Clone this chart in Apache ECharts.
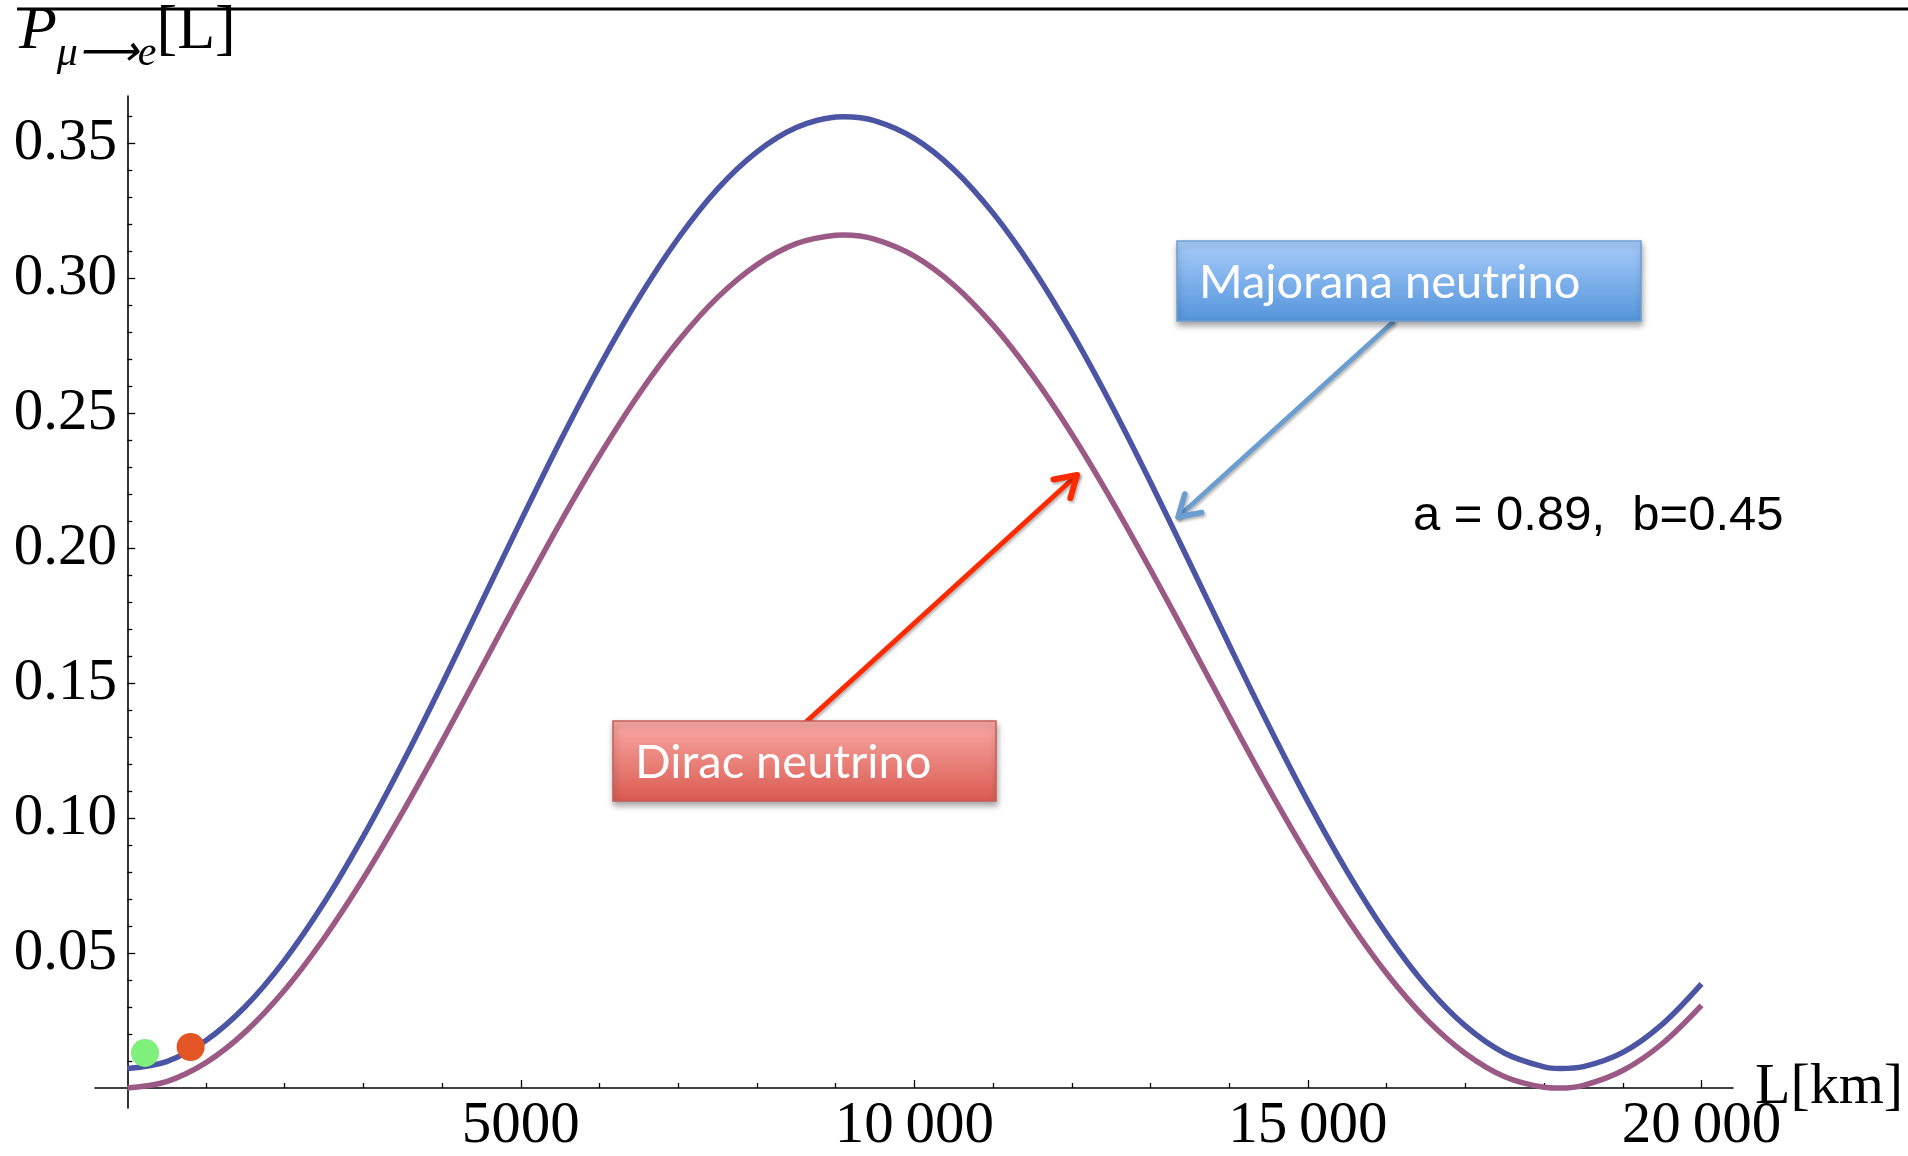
<!DOCTYPE html>
<html>
<head>
<meta charset="utf-8">
<script src="https://cdn.jsdelivr.net/npm/echarts@6/dist/echarts.min.js"></script>
<style>
html,body{margin:0;padding:0;background:#fff;}
#chart{width:1908px;height:1156px;}
</style>
</head>
<body>
<div id="chart"></div>
<script>
// ---- data ----
const lengthKm = [0,500,1000,1500,2000,2500,3000,3500,4000,4500,5000,5500,6000,6500,7000,7500,8000,8500,9000,9100,9500,10000,
  10500,11000,11500,12000,12500,13000,13500,14000,14500,15000,15500,16000,16500,17000,17500,18000,18200,18500,19000,19500,20000];
const majorana = [0.0072,0.0098,0.0176,0.0302,0.0474,0.0686,0.0933,0.1206,0.1497,0.1799,0.2101,0.2396,0.2674,0.2927,0.3148,0.3331,0.3468,0.3558,0.3597,0.3598,0.3583,0.3518,
  0.3403,0.3241,0.3038,0.2799,0.2532,0.2244,0.1944,0.1641,0.1344,0.1061,0.0801,0.0571,0.0379,0.0230,0.0129,0.0078,0.0072,0.0079,0.0132,0.0236,0.0386];
const dirac = [0.0000,0.0024,0.0094,0.0208,0.0363,0.0555,0.0777,0.1023,0.1285,0.1557,0.1829,0.2094,0.2343,0.2570,0.2767,0.2929,0.3050,0.3128,0.3159,0.3160,0.3144,0.3082,
  0.2975,0.2826,0.2640,0.2423,0.2180,0.1920,0.1650,0.1377,0.1110,0.0858,0.0627,0.0424,0.0256,0.0128,0.0042,0.0003,0.0000,0.0010,0.0065,0.0164,0.0306];
const dotL = [225, 805];
const dotP = [0.0130, 0.0152];
const dotColors = ['#7ef07b', '#e45526'];

const xMajorTicks = [5000,10000,15000,20000];
const xMinorTicks = [1000,2000,3000,4000,6000,7000,8000,9000,11000,12000,13000,14000,16000,17000,18000,19000];
const yMajorTicks = [0.05,0.10,0.15,0.20,0.25,0.30,0.35];
const yMinorTicks = [0.01,0.02,0.03,0.04,0.06,0.07,0.08,0.09,0.11,0.12,0.13,0.14,0.16,0.17,0.18,0.19,
  0.21,0.22,0.23,0.24,0.26,0.27,0.28,0.29,0.31,0.32,0.33,0.34,0.36];

const xName = 'L[km]';
const seriesNames = ['Majorana neutrino', 'Dirac neutrino'];
const paramText = 'a = 0.89,  b=0.45';

// ---- chart ----
const serif = '"Liberation Serif", "Times New Roman", serif';
const chart = echarts.init(document.getElementById('chart'), null, {renderer:'canvas'});

function fmtX(v){
  return v >= 10000 ? String(v).replace(/\B(?=(\d{3})+(?!\d))/g, '\u2009') : String(v);
}

function arrow(x1,y1,x2,y2,color,w,head){
  const a = Math.atan2(y2-y1, x2-x1);
  const sp = 0.55;
  const p1 = [x2 - head*Math.cos(a-sp), y2 - head*Math.sin(a-sp)];
  const p2 = [x2 - head*Math.cos(a+sp), y2 - head*Math.sin(a+sp)];
  const sh = {shadowBlur:3, shadowOffsetX:1.5, shadowOffsetY:2, shadowColor:'rgba(0,0,0,0.3)'};
  return [
    {type:'line', z:50, shape:{x1:x1,y1:y1,x2:x2,y2:y2}, style:Object.assign({stroke:color, lineWidth:w, lineCap:'round'}, sh)},
    {type:'polyline', z:50, shape:{points:[p1,[x2,y2],p2]}, style:Object.assign({stroke:color, lineWidth:w+1, lineCap:'round', lineJoin:'round', fill:null}, sh)}
  ];
}

function box(x,y,w,h,top,bottom,border,label){
  return [
    {type:'rect', z:60, shape:{x:x,y:y,width:w,height:h},
     style:{fill:{type:'linear',x:0,y:0,x2:0,y2:1,colorStops:[{offset:0,color:top},{offset:1,color:bottom}]},
            stroke:border, lineWidth:1.5, shadowBlur:6, shadowOffsetX:1, shadowOffsetY:4, shadowColor:'rgba(0,0,0,0.35)'}},
    {type:'text', z:61, x:x+22, y:y+h/2+2,
     style:{text:label, fill:'#ffffff', fontFamily:'Lato, "Open Sans", sans-serif', fontSize:47, verticalAlign:'middle', align:'left'}}
  ];
}

const graphics = [].concat(
  [{type:'line', z:40, shape:{x1:17,y1:9,x2:1908,y2:9}, style:{stroke:'#000', lineWidth:3}}],
  arrow(1393,322,1178,517,'#6a9dd0',4.5,24),
  arrow(807,721,1077,475,'#ff2a00',5,24),
  box(1177,241,464,80,'#a8cdfb','#5494da','#6d9fd4',seriesNames[0]),
  box(613,721,383,80,'#f9aaa6','#da5a50','#c65c55',seriesNames[1]),
  [{type:'text', z:40, x:1413, y:516, style:{text:paramText, fill:'#000', fontFamily:'"Liberation Sans", Arial, sans-serif', fontSize:49, verticalAlign:'middle', align:'left'}}]
);

const axisColor = '#000';
const option = {
  animation:false,
  backgroundColor:'#ffffff',
  grid:{left:95, top:96, width:1638, height:1012, containLabel:false, outerBoundsMode:'none'},
  xAxis:[
    {type:'value', min:-410, max:20400, position:'bottom',
     axisLine:{show:true, onZero:true, lineStyle:{color:axisColor, width:1.6}},
     axisTick:{show:true, customValues:xMajorTicks, inside:true, length:8, lineStyle:{color:axisColor, width:1.3}},
     axisLabel:{show:true, customValues:xMajorTicks, formatter:fmtX, fontFamily:serif, fontSize:59, color:'#000', margin:-11},
     splitLine:{show:false},
     name:xName, nameLocation:'end', nameGap:22, nameMoveOverlap:false,
     nameTextStyle:{fontFamily:serif, fontSize:58, color:'#000', verticalAlign:'middle', align:'left'}},
    {type:'value', min:-410, max:20400, position:'bottom',
     axisLine:{show:true, onZero:true, lineStyle:{color:axisColor, width:1.6, opacity:0}},
     axisTick:{show:true, customValues:xMinorTicks, inside:true, length:5, lineStyle:{color:axisColor, width:1.3}},
     axisLabel:{show:false}, splitLine:{show:false}}
  ],
  yAxis:[
    {type:'value', min:-0.0074, max:0.3675, position:'left',
     axisLine:{show:true, onZero:true, lineStyle:{color:axisColor, width:1.6}},
     axisTick:{show:true, customValues:yMajorTicks, inside:true, length:8, lineStyle:{color:axisColor, width:1.3}},
     axisLabel:{show:true, customValues:yMajorTicks, formatter:function(v){return v.toFixed(2);}, fontFamily:serif, fontSize:59, color:'#000', margin:-22},
     splitLine:{show:false},
     name:'{p|P}{s|μ⟶e}{l|[L]}', nameLocation:'end', nameGap:29, nameMoveOverlap:false,
     nameTextStyle:{align:'center', verticalAlign:'bottom',
       rich:{
         p:{fontFamily:serif, fontStyle:'italic', fontSize:62, lineHeight:66, verticalAlign:'top', color:'#000'},
         s:{fontFamily:serif, fontStyle:'italic', fontSize:42, lineHeight:44, padding:[32,0,0,0], verticalAlign:'top', color:'#000'},
         l:{fontFamily:serif, fontSize:62, lineHeight:66, verticalAlign:'top', color:'#000'}
       }}},
    {type:'value', min:-0.0074, max:0.3675, position:'left',
     axisLine:{show:true, onZero:true, lineStyle:{color:axisColor, width:1.6, opacity:0}},
     axisTick:{show:true, customValues:yMinorTicks, inside:true, length:5, lineStyle:{color:axisColor, width:1.3}},
     axisLabel:{show:false}, splitLine:{show:false}}
  ],
  series:[
    {name:seriesNames[0], type:'line', xAxisIndex:0, yAxisIndex:0, smooth:0.33, showSymbol:false, symbol:'none',
     lineStyle:{color:'#4b55a4', width:5.5}, data:lengthKm.map((x,i)=>[x, majorana[i]]), z:5},
    {name:seriesNames[1], type:'line', xAxisIndex:0, yAxisIndex:0, smooth:0.33, showSymbol:false, symbol:'none',
     lineStyle:{color:'#9b5a86', width:5.5}, data:lengthKm.map((x,i)=>[x, dirac[i]]), z:4},
    {type:'scatter', xAxisIndex:0, yAxisIndex:0, symbolSize:28, z:6,
     data:dotL.map((x,i)=>({value:[x, dotP[i]], itemStyle:{color:dotColors[i], opacity:1}}))}
  ],
  graphic:graphics
};
chart.setOption(option);
</script>
</body>
</html>
